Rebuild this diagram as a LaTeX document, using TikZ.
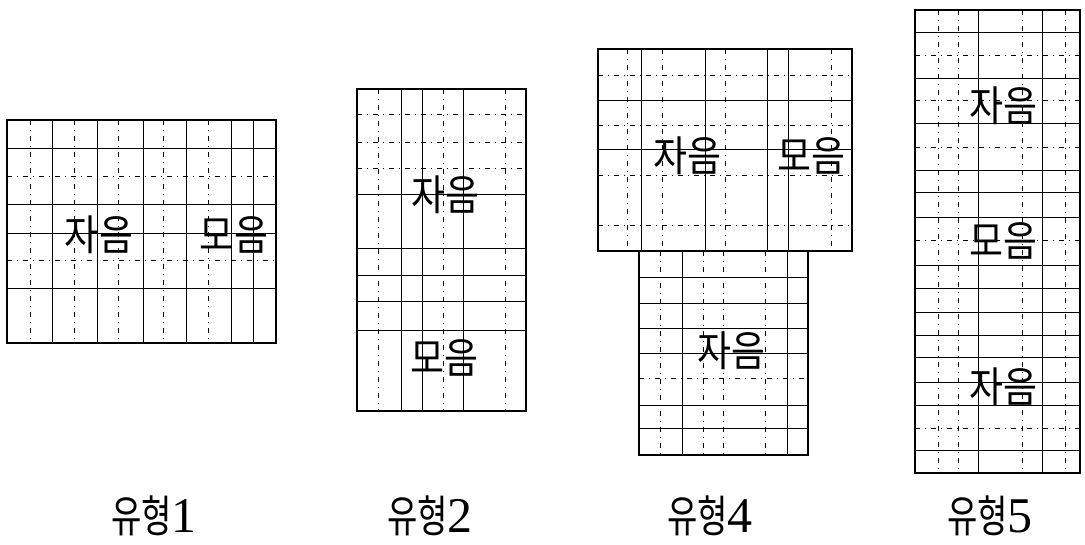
\documentclass[tikz,border=0pt]{standalone}
\usepackage{fontspec}
\setmainfont{Liberation Serif}
\newfontfamily\krfont{Noto Sans CJK KR}
\newcommand{\hg}[1]{\scalebox{0.88}[1]{\krfont\fontsize{42}{44}\selectfont #1}}
\newcommand{\lab}[2]{\scalebox{0.75}[1]{\krfont\fontsize{44}{46}\selectfont #1}{\fontsize{50}{52}\selectfont #2}}
\begin{document}
\begin{tikzpicture}[x=1pt,y=-1pt,
  frame/.style={line width=1.3pt},
  sl/.style={line width=0.6pt},
  dl/.style={line width=0.6pt,dash pattern=on 5pt off 5pt on 1pt off 5pt},
  thk/.style={line width=1pt},
  txt/.style={inner sep=0pt}]
\useasboundingbox (0,0) rectangle (1085,545);
% ---------- Box 1 ----------
\foreach \x in {30,74,118,163,208} \draw[dl] (\x,120) -- (\x,343);
\foreach \y in {176,260} \draw[dl] (7,\y) -- (276,\y);
\foreach \x in {52,97,143,231,253} \draw[sl] (\x,120) -- (\x,343);
\foreach \y in {148,204,233,288} \draw[sl] (7,\y) -- (276,\y);
\draw[thk] (186,120) -- (186,343);
\draw[frame] (7,120) rectangle (276,343);
% ---------- Box 2 ----------
\foreach \x in {378,443,505} \draw[dl] (\x,89) -- (\x,411);
\foreach \y in {114,142,168} \draw[dl] (357,\y) -- (526,\y);
\foreach \x in {401,422,463} \draw[sl] (\x,89) -- (\x,411);
\foreach \y in {194,248,275,330} \draw[sl] (357,\y) -- (526,\y);
\draw[thk] (357,302) -- (526,302);
\draw[frame] (357,89) rectangle (526,411);
% ---------- Box 4 upper ----------
\foreach \x in {627,662,725,831} \draw[dl] (\x,49) -- (\x,251);
\foreach \y in {75,125,175,225} \draw[dl] (598,\y) -- (852,\y);
\foreach \x in {641,705,788} \draw[sl] (\x,49) -- (\x,251);
\foreach \y in {100,149} \draw[sl] (598,\y) -- (852,\y);
\draw[thk] (767,49) -- (767,251);
\draw[frame] (598,49) rectangle (852,251);
% ---------- Box 4 lower ----------
\foreach \x in {660,703,723,765} \draw[dl] (\x,251) -- (\x,455);
\foreach \y in {378} \draw[dl] (639,\y) -- (808,\y);
\foreach \x in {682,787} \draw[sl] (\x,251) -- (\x,455);
\foreach \y in {277,303,328,353,405,428} \draw[sl] (639,\y) -- (808,\y);
\draw[frame] (639,251) -- (639,455) -- (808,455) -- (808,251);
% ---------- Box 5 ----------
\foreach \x in {938,958,1022,1065} \draw[dl] (\x,10) -- (\x,473);
\foreach \y in {55,100,147,240,428} \draw[dl] (915,\y) -- (1080,\y);
\foreach \x in {978,1042} \draw[sl] (\x,10) -- (\x,473);
\foreach \y in {32,78,123,170,217,265,288,312,335,382,405,450} \draw[sl] (915,\y) -- (1080,\y);
\draw[thk] (915,193) -- (1080,193);
\draw[thk] (915,358) -- (1080,358);
\draw[frame] (915,10) rectangle (1080,473);
% ---------- texts ----------
\node[txt] (t1a) at (99,235) {\hg{자음}};
\node[txt] (t1b) at (234,235) {\hg{모음}};
\node[txt] (t2a) at (445,195) {\hg{자음}};
\node[txt] (t2b) at (444,358) {\hg{모음}};
\node[txt] (t4a) at (687,156) {\hg{자음}};
\node[txt] (t4b) at (811,156) {\hg{모음}};
\node[txt] (t4c) at (731,351) {\hg{자음}};
\node[txt] (t5a) at (1003,106) {\hg{자음}};
\node[txt] (t5b) at (1003,241) {\hg{모음}};
\node[txt] (t5c) at (1003,387) {\hg{자음}};
% ---------- captions ----------
\node[inner sep=0pt] (c1) at (154,516) {\lab{유형}{1}};
\node[inner sep=0pt] (c2) at (430,516) {\lab{유형}{2}};
\node[inner sep=0pt] (c4) at (710,516) {\lab{유형}{4}};
\node[inner sep=0pt] (c5) at (990,516) {\lab{유형}{5}};
\end{tikzpicture}
\end{document}
